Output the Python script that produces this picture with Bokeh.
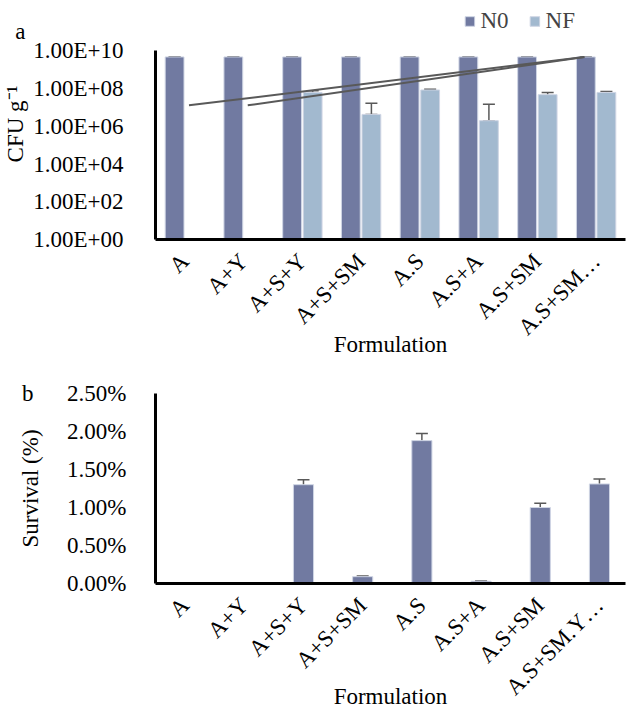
import numpy as np
from bokeh.plotting import figure
from bokeh.models import (Range1d, FixedTicker, CustomJSTickFormatter, ColumnDataSource,
                          Whisker, TeeHead, Legend, LegendItem, LogAxis, LinearAxis)
from bokeh.layouts import column
from bokeh.embed import file_html
from bokeh.resources import INLINE

# ---------------- data ----------------
formulations_a = ["A", "A+Y", "A+S+Y", "A+S+SM", "A.S", "A.S+A", "A.S+SM", "A.S+SM\u2026"]
formulations_b = ["A", "A+Y", "A+S+Y", "A+S+SM", "A.S", "A.S+A", "A.S+SM", "A.S+SM.Y\u2026"]

n0_cfu = [4.8e9, 4.8e9, 4.8e9, 4.8e9, 4.8e9, 4.8e9, 4.8e9, 4.8e9]
n0_err = [1.5e8, 1.5e8, 1.5e8, 1.5e8, 1.5e8, 1.5e8, 1.5e8, 1.5e8]
nf_cfu = [np.nan, np.nan, 6.3e7, 4.3e6, 8.5e7, 2.0e6, 4.8e7, 6.3e7]
nf_err = [np.nan, np.nan, 1.5e7, 1.25e7, 0.8e7, 1.3e7, 1.4e7, 0.8e7]

survival_pct = [0.0, 0.0, 1.30, 0.09, 1.88, 0.03, 1.00, 1.31]
survival_err = [0.0, 0.0, 0.065, 0.008, 0.095, 0.004, 0.055, 0.065]

# two drawn straight lines in panel a (start category position / value, end position / value)
line_x0 = [0.57, 1.57]
line_y0 = [1.3e7, 1.3e7]
line_x1 = [7.30, 7.30]
line_y1 = [4.8e9, 4.8e9]

y_ticks_a = [1e0, 1e2, 1e4, 1e6, 1e8, 1e10]
y_ticks_b = [0.0, 0.5, 1.0, 1.5, 2.0, 2.5]
panel_letters = ["a", "b"]

# ---------------- style ----------------
FONT = "Liberation Serif"
FS = "23px"
C_N0 = "#717aa1"
C_NF = "#a2b9cf"
C_EDGE = "#cfd5e4"
C_ERR = "#595959"

def style_axes(p):
    p.grid.visible = False
    p.outline_line_color = None
    for ax in (p.xaxis[0], p.yaxis[0]):
        ax.axis_line_color = "black"
        ax.axis_line_width = 3
        ax.major_tick_line_color = None
        ax.minor_tick_line_color = None
        ax.major_label_text_font = FONT
        ax.major_label_text_font_size = FS
        ax.major_label_text_color = "black"
        ax.axis_label_text_font = FONT
        ax.axis_label_text_font_size = FS
        ax.axis_label_text_font_style = "normal"
        ax.axis_label_text_color = "black"

def letter_axis(cls, tick, letter, standoff):
    ax = cls(ticker=FixedTicker(ticks=[tick]),
             formatter=CustomJSTickFormatter(args=dict(t=letter), code="return t;"))
    ax.axis_line_color = None
    ax.major_tick_line_color = None
    ax.minor_tick_line_color = None
    ax.major_label_standoff = standoff
    ax.major_label_text_font = FONT
    ax.major_label_text_font_size = FS
    ax.major_label_text_color = "black"
    return ax

cat_fmt_code = "return labels[Math.floor(tick)];"

# ---------------- panel a ----------------
n = len(formulations_a)
xc = np.arange(n) + 0.5
off = 0.175
bw = 0.32

p1 = figure(width=638, height=359, output_backend="svg", toolbar_location=None,
            y_axis_type="log", x_range=Range1d(0, n), y_range=Range1d(1, 10 ** 12.25),
            min_border_left=150, min_border_top=8, min_border_right=13, min_border_bottom=10)

src_a = ColumnDataSource(dict(
    x_n0=xc - off, x_nf=xc + off, n0=n0_cfu, nf=nf_cfu,
    n0_up=np.array(n0_cfu) + np.array(n0_err), n0_lo=np.array(n0_cfu) - np.array(n0_err),
    nf_up=np.array(nf_cfu) + np.array(nf_err),
    nf_lo=np.where(np.array(nf_cfu) - np.array(nf_err) > 0, np.array(nf_cfu) - np.array(nf_err), np.array(nf_cfu)),
))

r_n0 = p1.vbar(x="x_n0", top="n0", bottom=1, width=bw, source=src_a,
               fill_color=C_N0, line_color=C_EDGE, line_width=1)
r_nf = p1.vbar(x="x_nf", top="nf", bottom=1, width=bw, source=src_a,
               fill_color=C_NF, line_color=C_EDGE, line_width=1)

for base, up, lo in (("x_n0", "n0_up", "n0_lo"), ("x_nf", "nf_up", "nf_lo")):
    w = Whisker(source=src_a, base=base, upper=up, lower=lo, line_color=C_ERR, line_width=1.5,
                upper_head=TeeHead(size=12, line_color=C_ERR, line_width=1.5),
                lower_head=TeeHead(size=12, line_color=C_ERR, line_width=1.5))
    p1.add_layout(w)

p1.segment(x0=line_x0, y0=line_y0, x1=line_x1, y1=line_y1, line_color=C_ERR, line_width=2)

style_axes(p1)
p1.yaxis.bounds = (y_ticks_a[0], y_ticks_a[-1])
p1.yaxis.ticker = FixedTicker(ticks=y_ticks_a)
p1.yaxis.formatter = CustomJSTickFormatter(code="""
const e = Math.round(Math.log10(tick));
const m = (tick / Math.pow(10, e)).toFixed(2);
return m + 'E+' + (e < 10 ? '0' + e : '' + e);
""")
p1.yaxis.axis_label = "CFU g\u207b\u00b9"
p1.yaxis.major_label_standoff = 26
p1.yaxis.axis_label_standoff = 2
p1.xaxis.ticker = FixedTicker(ticks=list(xc))
p1.xaxis.formatter = CustomJSTickFormatter(args=dict(labels=formulations_a), code=cat_fmt_code)
p1.xaxis.major_label_orientation = np.pi / 4
p1.xaxis.major_label_standoff = 12
p1.xaxis.axis_label = "Formulation"
p1.xaxis.axis_label_standoff = -20
p1.add_layout(letter_axis(LogAxis, 1.05e11, panel_letters[0], -31), "left")

leg = Legend(items=[LegendItem(label="N0", renderers=[r_n0]),
                    LegendItem(label="NF", renderers=[r_nf]),
                    LegendItem(label="\u2002", renderers=[])],
             orientation="horizontal", location="top_right", padding=0, margin=0,
             background_fill_alpha=0, border_line_color=None,
             label_text_font=FONT, label_text_font_size=FS, label_width=13,
             glyph_width=12, glyph_height=12, label_standoff=5, spacing=20)
p1.add_layout(leg)

# ---------------- panel b ----------------
xb = np.arange(len(formulations_b)) + 0.5
p2 = figure(width=638, height=352, output_backend="svg", toolbar_location=None,
            x_range=Range1d(0, 7.94), y_range=Range1d(0, 2.5),
            min_border_left=144, min_border_top=34, min_border_right=0, min_border_bottom=10)

p2.vbar(x=xb, top=survival_pct, bottom=0, width=0.34,
        fill_color=C_N0, line_color=C_EDGE, line_width=1)
has_err = np.array(survival_pct) > 0
src_b_err = ColumnDataSource(dict(
    x=xb[has_err],
    up=(np.array(survival_pct) + np.array(survival_err))[has_err],
    lo=(np.array(survival_pct) - np.array(survival_err))[has_err],
))
p2.add_layout(Whisker(source=src_b_err, base="x", upper="up", lower="lo", line_color=C_ERR, line_width=1.5,
                      upper_head=TeeHead(size=12, line_color=C_ERR, line_width=1.5),
                      lower_head=TeeHead(size=12, line_color=C_ERR, line_width=1.5)))

style_axes(p2)
p2.yaxis.ticker = FixedTicker(ticks=y_ticks_b)
p2.yaxis.formatter = CustomJSTickFormatter(code="return tick.toFixed(2) + '%';")
p2.yaxis.axis_label = "Survival (%)"
p2.yaxis.major_label_standoff = 23
p2.yaxis.axis_label_standoff = 21
p2.xaxis.ticker = FixedTicker(ticks=list(xb))
p2.xaxis.formatter = CustomJSTickFormatter(args=dict(labels=formulations_b), code=cat_fmt_code)
p2.xaxis.major_label_orientation = np.pi / 4
p2.xaxis.major_label_standoff = 12
p2.xaxis.axis_label = "Formulation"
p2.xaxis.axis_label_standoff = -28
p2.add_layout(letter_axis(LinearAxis, y_ticks_b[-1], panel_letters[1], -24), "left")

layout = column(p1, p2, spacing=0)
open("out.html", "w").write(file_html(layout, INLINE))
